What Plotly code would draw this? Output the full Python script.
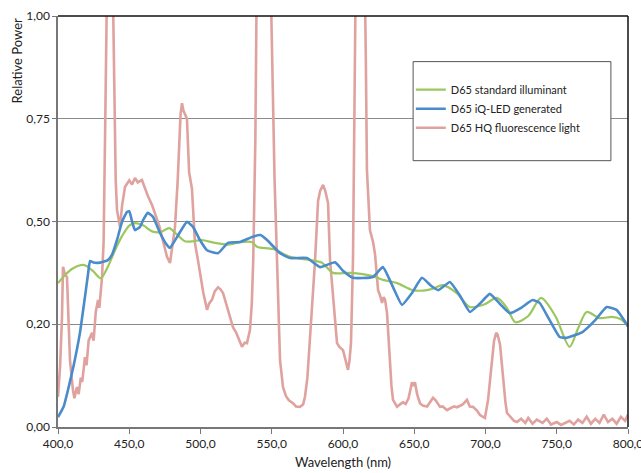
import plotly.graph_objects as go

# ---- data ----
green_nm = [400, 405, 410, 416, 420, 425, 430, 435, 440, 445, 450, 454, 460, 466, 472, 478, 483, 489,
            495, 501, 510, 520, 528, 536, 540, 551, 563, 577, 585, 593, 605, 621, 628, 638, 649, 659,
            664, 670, 680, 689, 699, 708, 715, 721, 730, 739, 749, 759, 765, 771, 780, 789, 795, 800]
green_val = [0.35, 0.37, 0.385, 0.394, 0.392, 0.378, 0.362, 0.39, 0.43, 0.465, 0.49, 0.496, 0.49, 0.476,
             0.474, 0.484, 0.47, 0.452, 0.452, 0.455, 0.448, 0.444, 0.45, 0.45, 0.438, 0.433, 0.414, 0.406,
             0.40, 0.375, 0.375, 0.367, 0.358, 0.35, 0.333, 0.333, 0.338, 0.345, 0.325, 0.292, 0.298, 0.314,
             0.29, 0.255, 0.27, 0.314, 0.27, 0.195, 0.24, 0.28, 0.265, 0.268, 0.262, 0.245]

blue_nm = [400, 404, 407, 411, 415.4, 418.9, 421, 422.5, 425, 429.5, 435, 438, 441.4, 445, 448.4, 450,
           452, 454, 457.5, 460, 463, 466.7, 471.6, 476, 478.6, 483.5, 490.5, 494.7, 499.6, 504.6, 512.3,
           519.3, 527.7, 536, 542, 546.7, 555.8, 562.8, 574.7, 583.9, 594.4, 600, 607, 621, 628, 635,
           641.4, 648.4, 655.4, 662, 667, 675, 682, 689, 696, 703, 710, 717, 725, 733, 738, 745, 752,
           757, 768, 777, 785, 792, 800]
blue_val = [0.024, 0.05, 0.09, 0.15, 0.229, 0.316, 0.37, 0.404, 0.40, 0.40, 0.406, 0.42, 0.455, 0.50,
            0.523, 0.525, 0.50, 0.479, 0.487, 0.505, 0.521, 0.511, 0.472, 0.445, 0.436, 0.462, 0.499,
            0.487, 0.455, 0.43, 0.423, 0.448, 0.45, 0.462, 0.467, 0.455, 0.423, 0.411, 0.411, 0.389, 0.401,
            0.38, 0.363, 0.365, 0.389, 0.341, 0.297, 0.326, 0.363, 0.343, 0.333, 0.353, 0.32, 0.28, 0.30,
            0.324, 0.30, 0.277, 0.29, 0.309, 0.302, 0.26, 0.219, 0.217, 0.231, 0.26, 0.292, 0.285, 0.245]

pink_nm = [400, 401.5, 402.8, 403.5, 405, 406.3, 407.5, 408.4, 410.5, 411.5, 413.3, 414.5, 416, 417,
           418.9, 420, 421.5, 423.9, 425, 426.5, 428.1, 429, 430.9, 432, 433, 434.5, 436, 437.5, 439.5,
           440.5, 441.4, 443.5, 445, 447, 450, 452, 454, 456, 458.9, 461, 463.3, 466, 468, 471, 473,
           476.5, 478.6, 480, 482.1, 484, 486, 487, 488, 490.5, 492, 494, 496.1, 498.2, 501.1, 502,
           504.6, 506, 508.1, 510, 512.3, 514, 515.8, 518, 520, 522.8, 525, 527, 529.1, 531, 532.6,
           534.7, 536, 537, 538.5, 540, 544, 548, 550, 552, 553.7, 555, 555.8, 557.9, 560, 562, 564.9,
           567, 569.8, 572, 573.3, 575, 576.8, 578.9, 580.4, 582.5, 584, 586, 587.5, 589.5, 590.9, 593,
           595.8, 597.5, 600, 602, 603.5, 604.5, 605.6, 607, 608, 609.5, 612, 614.5, 616, 616.8, 618.9,
           621.1, 622.5, 623.9, 624.6, 626, 627.4, 628.5, 629.5, 630.9, 632, 633, 634, 635.1, 637.9,
           640, 642.1, 644, 646, 648.4, 649.5, 650.5, 652, 654, 656, 659, 661, 663.2, 665, 668.1, 670,
           673, 675, 678, 680, 684, 687, 689, 691.2, 694, 696.1, 699.6, 701.8, 703.2, 704.6, 706, 707.5,
           708.5, 710.2, 711, 712.3, 714, 715.1, 718.6, 720, 722.1, 725, 728, 730, 733, 736, 740, 743,
           746, 750, 753, 756, 759, 762, 765, 768, 771, 774, 777, 780, 783, 786, 789, 792, 795, 798, 800]
pink_val = [0.073, 0.15, 0.268, 0.39, 0.37, 0.365, 0.25, 0.163, 0.09, 0.07, 0.097, 0.08, 0.12, 0.11,
            0.17, 0.15, 0.21, 0.229, 0.21, 0.28, 0.309, 0.29, 0.365, 0.45, 0.7, 1.3, 1.5, 1.3, 0.8,
            0.6, 0.528, 0.487, 0.54, 0.584, 0.6, 0.59, 0.606, 0.595, 0.601, 0.58, 0.56, 0.54, 0.52, 0.49,
            0.462, 0.414, 0.399, 0.43, 0.487, 0.6, 0.76, 0.788, 0.77, 0.75, 0.62, 0.58, 0.448, 0.406,
            0.34, 0.326, 0.285, 0.30, 0.31, 0.33, 0.34, 0.335, 0.326, 0.30, 0.27, 0.243, 0.23, 0.215,
            0.195, 0.205, 0.204, 0.236, 0.3, 0.406, 0.7, 1.3, 1.5, 1.3, 0.9, 0.6, 0.406, 0.25, 0.163,
            0.097, 0.075, 0.065, 0.058, 0.05, 0.049, 0.055, 0.073, 0.12, 0.204, 0.326, 0.406, 0.55, 0.575,
            0.589, 0.575, 0.545, 0.406, 0.31, 0.204, 0.195, 0.187, 0.16, 0.139, 0.16, 0.204, 0.406, 0.8,
            1.3, 1.5, 1.3, 0.9, 0.625, 0.479, 0.45, 0.42, 0.365, 0.333, 0.32, 0.302, 0.316, 0.31, 0.277,
            0.22, 0.146, 0.1, 0.066, 0.049, 0.055, 0.06, 0.056, 0.07, 0.109, 0.1, 0.109, 0.08, 0.058,
            0.052, 0.05, 0.06, 0.071, 0.065, 0.049, 0.05, 0.041, 0.045, 0.05, 0.048, 0.055, 0.066, 0.05,
            0.049, 0.04, 0.029, 0.022, 0.066, 0.12, 0.17, 0.21, 0.229, 0.225, 0.2, 0.17, 0.107, 0.06,
            0.034, 0.022, 0.015, 0.012, 0.02, 0.01, 0.022, 0.008, 0.018, 0.01, 0.02, 0.006, 0.012, 0.005,
            0.01, 0.015, 0.006, 0.018, 0.01, 0.025, 0.008, 0.02, 0.01, 0.03, 0.012, 0.02, 0.008, 0.025,
            0.015, 0.03]

x_ticks = [400, 450, 500, 550, 600, 650, 700, 750, 800]
x_tick_labels = ["400,0", "450,0", "500,0", "550,0", "600,0", "650,0", "700,0", "750,0", "800,0"]
y_ticks = [0, 0.25, 0.5, 0.75, 1.0]
y_tick_labels = ["0,00", "0,20", "0,50", "0,75", "1,00"]

names = ["D65 standard illuminant", "D65 iQ-LED generated", "D65 HQ fluorescence light"]
colors = ["#9cc760", "#4a8bcb", "#e0a29e"]

FONT = "Lato, 'Open Sans', sans-serif"

fig = go.Figure()
fig.add_trace(go.Scatter(x=pink_nm, y=pink_val, mode="lines", name=names[2],
                         line=dict(color=colors[2], width=2.6), legendrank=3))
fig.add_trace(go.Scatter(x=green_nm, y=green_val, mode="lines", name=names[0],
                         line=dict(color=colors[0], width=2.2, shape="spline", smoothing=0.8),
                         legendrank=1))
fig.add_trace(go.Scatter(x=blue_nm, y=blue_val, mode="lines", name=names[1],
                         line=dict(color=colors[1], width=2.6, shape="spline", smoothing=0.4),
                         legendrank=2))

fig.update_layout(
    width=641, height=473,
    margin=dict(l=58, r=13, t=16, b=46, autoexpand=False),
    paper_bgcolor="white", plot_bgcolor="white",
    font=dict(family=FONT, size=12, color="#222"),
    showlegend=True,
    legend=dict(x=0.619, y=0.856, xanchor="left", yanchor="top",
                bgcolor="rgba(0,0,0,0)", borderwidth=0,
                font=dict(family=FONT, size=11, color="#222"),
                tracegroupgap=0, itemwidth=30),
    xaxis=dict(range=[400, 800], tickvals=x_ticks, ticktext=x_tick_labels, automargin=False,
               ticklabeloverflow="allow",
               showgrid=False, zeroline=False, showline=True, linecolor="#777", linewidth=1.5,
               ticks="outside", ticklen=5, tickcolor="#777",
               tickfont=dict(size=12, color="#222"),
               title=dict(text="Wavelength (nm)", font=dict(size=13, color="#222"), standoff=8)),
    yaxis=dict(range=[0, 1], tickvals=y_ticks, ticktext=y_tick_labels, automargin=False,
               ticklabeloverflow="allow",
               showgrid=True, gridcolor="#8a8a8a", gridwidth=1, zeroline=False,
               showline=True, linecolor="#777", linewidth=1.5,
               ticks="outside", ticklen=4, tickcolor="#777",
               tickfont=dict(size=12, color="#222")),
)

# top and right frame lines
fig.add_shape(type="line", xref="paper", yref="paper", x0=0, x1=1, y0=1, y1=1,
              line=dict(color="#111", width=1.5))
fig.add_shape(type="line", xref="paper", yref="paper", x0=1, x1=1, y0=0, y1=1,
              line=dict(color="#111", width=1.5))
# legend box
fig.add_shape(type="rect", xref="paper", yref="paper", x0=0.623, x1=0.97, y0=0.648, y1=0.889,
              line=dict(color="#555", width=1), fillcolor="white", layer="above")

# y axis title placed at top-left
fig.add_annotation(text="Relative Power", xref="paper", yref="paper", x=-0.072, y=1.0,
                   xanchor="center", yanchor="top", textangle=-90, showarrow=False,
                   font=dict(size=13, color="#222"))

fig.write_html("out.html", config={"displayModeBar": False},
               post_script="document.body.style.margin='0';document.body.style.padding='0';")
